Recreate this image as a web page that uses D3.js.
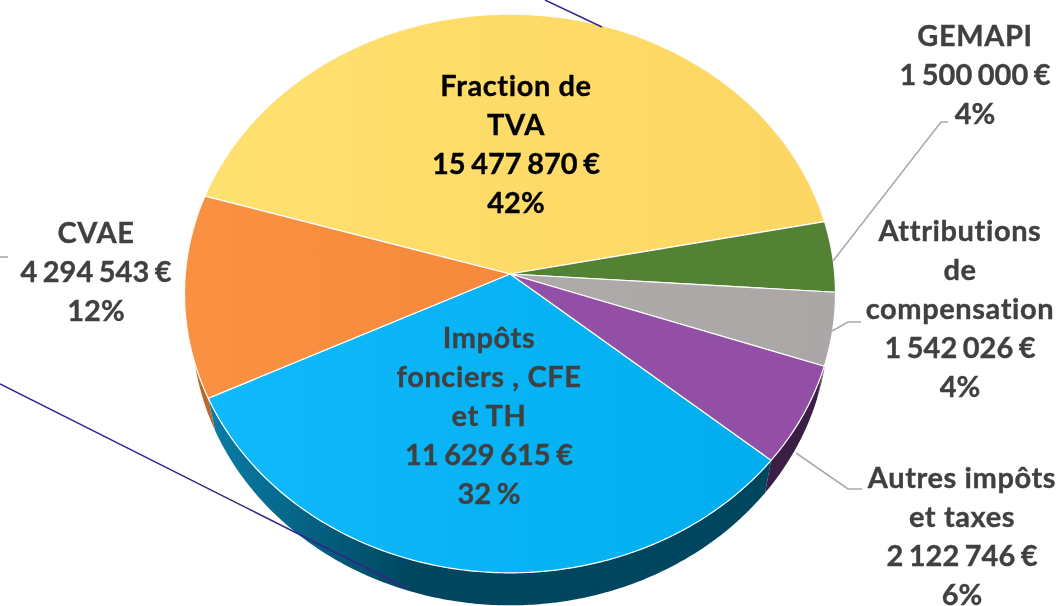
<!DOCTYPE html>
<html lang="fr">
<head>
<meta charset="utf-8">
<title>Recettes fiscales</title>
<script src="https://cdn.jsdelivr.net/npm/d3@7"></script>
<style>
  html, body { margin: 0; padding: 0; background: #fff; overflow: hidden; }
  svg { filter: blur(0.45px); }
  text { font-family: Lato, "Open Sans", sans-serif; font-weight: 700; font-size: 29px; text-anchor: middle; stroke-width: 0.35px; }
  .name { letter-spacing: 0.6px; }
  .amount { word-spacing: -1.5px; }
</style>
</head>
<body>
<svg id="chart"></svg>
<script>
// Slices, clockwise from the top of the yellow one
const categories = ["Fraction de TVA", "GEMAPI", "Attributions de compensation", "Autres impôts et taxes", "Impôts fonciers , CFE et TH", "CVAE"];
const values = [15477870, 1500000, 1542026, 2122746, 11629615, 4294543];
const percents = ["42%", "4%", "4%", "6%", "32 %", "12%"];
const nameLines = [["Fraction de", "TVA"], ["GEMAPI"], ["Attributions", "de", "compensation"], ["Autres impôts", "et taxes"], ["Impôts", "fonciers , CFE", "et TH"], ["CVAE"]];

// Colours: top face [left, right], side [left, right], text
const topColors = [["#FFE16F", "#FDD663"], ["#548235", "#548235"], ["#B2AEAE", "#ABA7A7"], ["#9650A9", "#924FA5"], ["#10BAFD", "#00ACEC"], ["#FA9142", "#F28035"]];
const sideColors = [["#8a7430", "#8a7430"], ["#2b431b", "#2b431b"], ["#5a5858", "#5a5858"], ["#3E2048", "#3A1E44"], ["#0A7EA8", "#00465F"], ["#B9692F", "#A85C28"]];
const textColors = ["#000", "#404040", "#404040", "#404040", "#404040", "#404040"];

// Label centres and first line position
const labelX = [516, 975, 960, 962, 489, 96];
const labelY = [86, 36, 231, 478, 338, 233];
const lineStep = 39;

const width = 1061, height = 606;
const svg = d3.select("#chart").attr("width", width).attr("height", height).style("display", "block");

// Perspective of the pie: tilted circle, the centre sits above the middle of the ellipse
const apex = { x: 510, y: 274 };
const tilt = 0.0698;
const radiusX = 324.7, radiusY = 278;
const depth = 32.5, bottomShrink = 0.977;
const startAngle = -73.4 * Math.PI / 180;

function rim(angle, bottom) {
  const w = 1 + tilt * Math.cos(angle);
  const k = bottom ? bottomShrink : 1;
  return [
    apex.x + k * radiusX * Math.sin(angle) / w,
    apex.y - radiusY * Math.cos(angle) / w + (bottom ? depth : 0)
  ];
}

function rimPoints(d, bottom) {
  const n = Math.ceil((d.endAngle - d.startAngle) / 0.01);
  return d3.range(n + 1).map(i => rim(d.startAngle + (d.endAngle - d.startAngle) * i / n, bottom));
}

const pie = d3.pie().sort(null).startAngle(startAngle).endAngle(startAngle + 2 * Math.PI);
const arcs = pie(values);
const line = d3.line();

const defs = svg.append("defs");
function gradient(id, colors, x1, x2) {
  const g = defs.append("linearGradient").attr("id", id)
    .attr("gradientUnits", "userSpaceOnUse")
    .attr("x1", x1).attr("x2", x2).attr("y1", 0).attr("y2", 0);
  g.append("stop").attr("offset", 0).attr("stop-color", colors[0]);
  g.append("stop").attr("offset", 1).attr("stop-color", colors[1]);
}
topColors.forEach((c, i) => gradient("top" + i, c, 185, 835));
sideColors.forEach((c, i) => gradient("side" + i, c, i === 4 ? 205 : 195, i === 4 ? 410 : 830));

// Sides first, the top faces cover what should stay hidden
svg.append("g").selectAll("path")
  .data(arcs)
  .enter().append("path")
  .attr("d", d => line(rimPoints(d, false).concat(rimPoints(d, true).reverse())) + "Z")
  .style("fill", (d, i) => `url(#side${i})`);

svg.append("g").selectAll("path")
  .data(arcs)
  .enter().append("path")
  .attr("d", d => line([[apex.x, apex.y]].concat(rimPoints(d, false))) + "Z")
  .style("fill", (d, i) => `url(#top${i})`)
  .style("stroke", "#fff")
  .style("stroke-width", 1.2)
  .style("stroke-linejoin", "round");

// Leader lines
const leaders = [
  [[833, 261], [941, 122], [948, 122]],
  [[832, 331], [848, 322], [861, 322]],
  [[796, 453], [848, 489], [862, 489]],
  [[0, 257], [8, 257]]
];
svg.append("g").selectAll("path")
  .data(leaders)
  .enter().append("path")
  .attr("d", d => line(d))
  .style("fill", "none")
  .style("stroke", "#aaa")
  .style("stroke-width", 1.6);

// The two stray navy lines crossing the picture
const strayLines = [
  [[545, 0], [602, 27]],
  [[0, 384], [408, 589]]
];
svg.append("g").selectAll("path")
  .data(strayLines)
  .enter().append("path")
  .attr("d", d => line(d))
  .style("fill", "none")
  .style("stroke", "#35248C")
  .style("stroke-width", 1.4);

// Labels
const money = d3.formatLocale({ decimal: ",", thousands: " ", grouping: [3], currency: ["", " €"] }).format("$,d");

const labels = svg.append("g").selectAll("text")
  .data(arcs)
  .enter().append("text")
  .attr("x", (d, i) => labelX[i])
  .attr("y", (d, i) => labelY[i])
  .style("fill", (d, i) => textColors[i])
  .style("stroke", (d, i) => textColors[i]);

labels.each(function (d, i) {
  const names = nameLines[i].map(t => ({ t, cls: "name" }));
  const rows = names.concat([{ t: money(values[i]), cls: "amount" }, { t: percents[i], cls: "amount" }]);
  d3.select(this).selectAll("tspan")
    .data(rows)
    .enter().append("tspan")
    .attr("class", r => r.cls)
    .attr("x", labelX[i])
    .attr("y", (r, j) => labelY[i] + j * lineStep)
    .attr("dy", ".35em")
    .text(r => r.t);
});
</script>
</body>
</html>
